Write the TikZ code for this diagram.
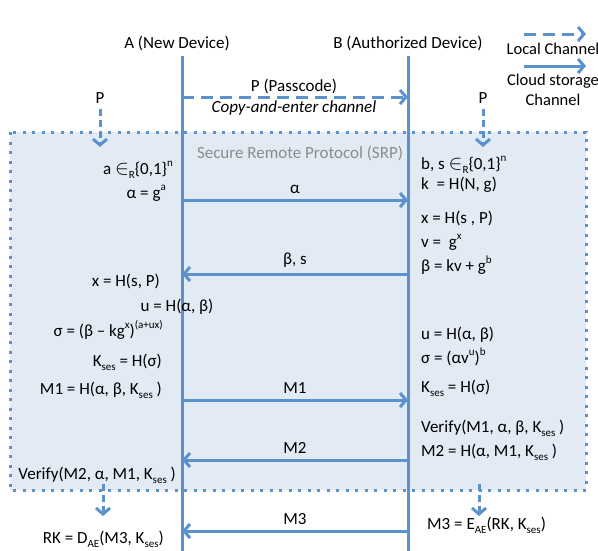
\documentclass[tikz,border=0pt]{standalone}
\usepackage{fontspec}
\setmainfont{Carlito}
\usetikzlibrary{arrows.meta}
\definecolor{lb}{RGB}{91,146,204}
\definecolor{boxfill}{RGB}{226,234,244}
\definecolor{srpgray}{RGB}{140,140,140}
\newcommand\mysup[1]{\raisebox{0.42em}{\fontsize{11}{11}\selectfont #1}}
\newcommand\mysub[1]{\raisebox{-0.25em}{\fontsize{11}{11}\selectfont #1}}
\newcommand\kses{K\mysub{ses}}
\newcommand\myin{{\fontsize{22}{22}\selectfont$\in$}}
\begin{document}
\begin{tikzpicture}[x=1pt,y=-1pt,
  font=\fontsize{17}{20}\selectfont,
  every node/.style={inner sep=0pt},
  life/.style={draw=lb, line width=3pt},
  msg/.style={draw=lb, line width=3pt, -{Straight Barb[length=6pt,width=14pt]}},
  local/.style={msg, dash pattern=on 12pt off 7pt},
  lt/.style={anchor=base east},
  rt/.style={anchor=base west},
  lbl/.style={above=5pt},
  legtext/.style={font=\fontsize{16.5}{19.5}\selectfont, align=center},
  srpbox/.style={draw=lb, line width=3pt, dash pattern=on 3pt off 6.5pt, fill=boxfill}
]
\useasboundingbox (0,0) rectangle (598,550);
% SRP box
\draw[srpbox] (10,132) rectangle (586,490);
\node[text=srpgray] (srp) at (300,153) {Secure Remote Protocol (SRP)};
% headers and lifelines
\node (A) at (177,43) {A (New Device)};
\node (B) at (408,43) {B (Authorized Device)};
\coordinate (Atop) at (182,56);
\coordinate (Abot) at (182,551);
\coordinate (Btop) at (408,56);
\coordinate (Bbot) at (408,551);
\draw[life] (Atop) -- (Abot);
\draw[life] (Btop) -- (Bbot);
% legend
\coordinate (l1a) at (524,34); \coordinate (l1b) at (586,34);
\draw[local] (l1a) -- (l1b);
\node[legtext] (lc) at (553,49) {Local Channel};
\coordinate (l2a) at (524,66); \coordinate (l2b) at (586,66);
\draw[msg] (l2a) -- (l2b);
\node[legtext] (cs) at (553,90) {Cloud storage\\Channel};
% passcode
\coordinate (pa) at (182,97); \coordinate (pb) at (408,97);
\draw[local] (pa) -- (pb);
\node (pl) at (294,86) {P (Passcode)};
\node (cl) at (294,108) {\itshape Copy-and-enter channel};
\node (PL) at (100,98) {P};
\node (PR) at (483,98) {P};
\coordinate (PLe) at (100,147);
\coordinate (PRe) at (483,147);
\draw[local, dash pattern=on 7pt off 4pt] (PL.south) ++(0,5) -- (PLe);
\draw[local, dash pattern=on 7pt off 4pt] (PR.south) ++(0,5) -- (PRe);
% left texts
\node[lt] (l1) at (173,174) {a \myin\mysub{R}\{0,1\}\mysup{n}};
\node[lt] (l2) at (166,198) {α = g\mysup{a}};
\node[lt] (l3) at (160,286) {x = H(s, P)};
\node[anchor=base] (l4) at (177,311) {u = H(α, β)};
\node[lt] (l5) at (163,336) {σ = (β – kg\mysup{x})\mysup{(a+ux)}};
\node[lt] (l6) at (162,366) {\kses{} = H(σ)};
\node[lt] (l7) at (162,394) {M1 = H(α, β, \kses{} )};
\node[lt] (l8) at (176,479) {Verify(M2, α, M1, \kses{} )};
\node[lt] (l9) at (164,543) {RK = D\mysub{AE}(M3, \kses)};
% right texts
\node[rt] (r1) at (421,169) {b, s \myin\mysub{R}\{0,1\}\mysup{n}};
\node[rt] (r2) at (421,189) {k\ \ = H(N, g)};
\node[rt] (r3) at (421,223) {x = H(s , P)};
\node[rt] (r4) at (421,247) {v =\ \ g\mysup{x}};
\node[rt] (r5) at (421,271) {β = kv + g\mysup{b}};
\node[rt] (r6) at (421,339) {u = H(α, β)};
\node[rt] (r7) at (421,363) {σ = (αv\mysup{u})\mysup{b}};
\node[rt] (r8) at (421,392) {\kses{} = H(σ)};
\node[rt] (r9) at (421,432) {Verify(M1, α, β, \kses{} )};
\node[rt] (r10) at (421,456) {M2 = H(α, M1, \kses{} )};
\node[rt] (r11) at (427,529) {M3 = E\mysub{AE}(RK, \kses)};
% down arrows at bottom
\coordinate (dl1) at (103,484); \coordinate (dl2) at (103,516);
\coordinate (dr1) at (479,484); \coordinate (dr2) at (479,516);
\draw[local, dash pattern=on 7pt off 4pt] (dl1) -- (dl2);
\draw[local, dash pattern=on 7pt off 4pt] (dr1) -- (dr2);
% messages
\coordinate (a1) at (182,200); \coordinate (b1) at (408,200);
\draw[msg] (a1) -- (b1) node[midway,lbl] {α};
\coordinate (a2) at (182,274); \coordinate (b2) at (408,274);
\draw[msg] (b2) -- (a2) node[midway,lbl] {β, s};
\coordinate (a3) at (182,400); \coordinate (b3) at (408,400);
\draw[msg] (a3) -- (b3) node[midway,lbl] {M1};
\coordinate (a4) at (182,460); \coordinate (b4) at (408,460);
\draw[msg] (b4) -- (a4) node[midway,lbl] {M2};
\coordinate (a5) at (182,531); \coordinate (b5) at (408,531);
\draw[msg] (b5) -- (a5) node[midway,lbl] {M3};
\end{tikzpicture}
\end{document}
